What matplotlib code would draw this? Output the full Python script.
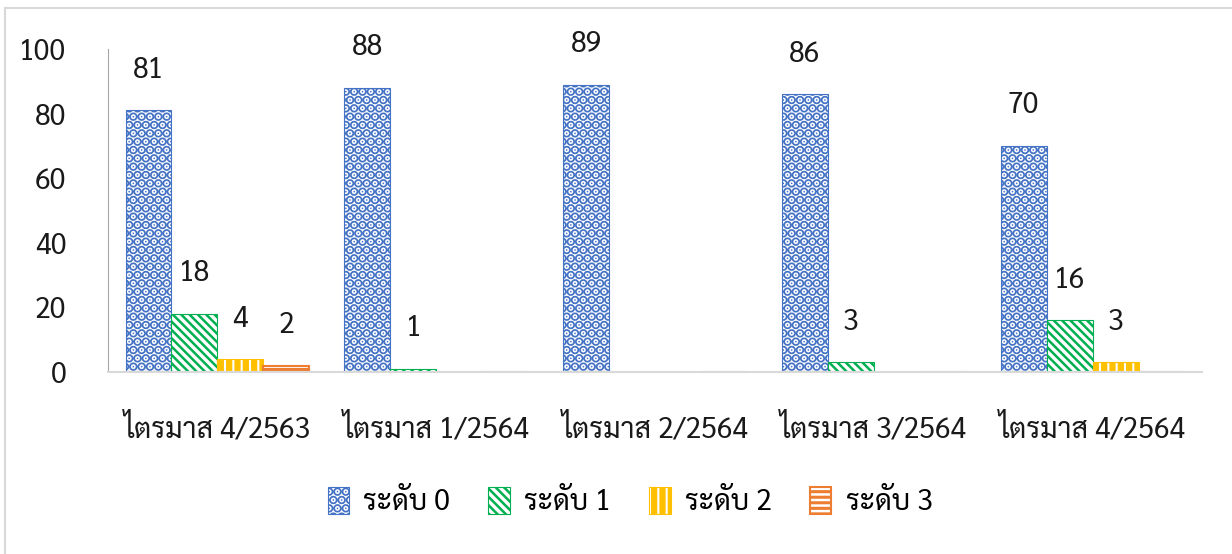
import matplotlib
matplotlib.use("Agg")
import matplotlib.pyplot as plt
from matplotlib.patches import Rectangle
import numpy as np

plt.rcParams['font.family'] = ['Sarabun', 'DejaVu Sans']

# data
quarters = ["ไตรมาส 4/2563", "ไตรมาส 1/2564", "ไตรมาส 2/2564", "ไตรมาส 3/2564", "ไตรมาส 4/2564"]
series_names = ["ระดับ 0", "ระดับ 1", "ระดับ 2", "ระดับ 3"]
level0 = [81, 88, 89, 86, 70]
level1 = [18, 1, 0, 3, 16]
level2 = [4, 0, 0, 0, 3]
level3 = [2, 0, 0, 0, 0]

colors = ["#4472C4", "#00B050", "#FFC000", "#ED7D31"]
hatches = ["..", "\\\\\\\\", "||", "---"]
hatch_lw = [4.8, 1.8, 4.5, 2.2]
FS = 20.5

fig = plt.figure(figsize=(12.32, 5.54), dpi=100)
ax = fig.add_axes([108 / 1232, 1 - 372 / 554, 1094 / 1232, 323 / 554])

# outer chart border
fig.patches.append(Rectangle((5 / 1232, -0.1), 1.2, 1 - 8 / 554 + 0.1, transform=fig.transFigure,
                             fill=False, edgecolor="#D9D9D9", linewidth=1.5))

x = np.arange(len(quarters))
w = 0.21
offsets = [-1.5 * w, -0.5 * w, 0.5 * w, 1.5 * w]
handles = []
for vals, name, c, h, hl, off in zip([level0, level1, level2, level3], series_names,
                                     colors, hatches, hatch_lw, offsets):
    bars = ax.bar(x + off, vals, w, facecolor="white", edgecolor=c, hatch=h,
                  linewidth=0.8 if name != "ระดับ 3" else 1.5, label=name)
    for b in bars:
        if hasattr(b, "set_hatch_linewidth"):
            b.set_hatch_linewidth(hl)
    handles.append(bars)
    for xi, v in zip(x + off, vals):
        if v > 0:
            ax.annotate(str(v), (xi, v), xytext=(0, 40), textcoords="offset pixels",
                        ha="center", va="center", fontsize=FS, color="#1a1a1a")

ax.set_xlim(-0.5, len(quarters) - 0.5)
ax.set_ylim(0, 100)
ax.set_yticks(range(0, 101, 20))
ax.set_xticks(x)
ax.set_xticklabels(quarters)
ax.tick_params(axis='y', length=0, labelsize=FS, pad=30, labelcolor="#1a1a1a")
ax.tick_params(axis='x', length=0, labelsize=FS, pad=30, labelcolor="#1a1a1a")
for s in ["top", "right"]:
    ax.spines[s].set_visible(False)
ax.spines["left"].set_color("#A6A6A6")
ax.spines["bottom"].set_color("#D9D9D9")
ax.spines["bottom"].set_linewidth(1.5)

leg = fig.legend(handles=handles, labels=series_names, loc="center",
                 bbox_to_anchor=(630 / 1232, 1 - 502 / 554),
                 ncol=4, frameon=False, fontsize=FS, handlelength=0.75, handleheight=1.1,
                 columnspacing=1.35, handletextpad=0.5)
for hnd, hl in zip(leg.legend_handles, hatch_lw):
    if hasattr(hnd, "set_hatch_linewidth"):
        hnd.set_hatch_linewidth(hl)

fig.savefig("out.png", dpi=100)
